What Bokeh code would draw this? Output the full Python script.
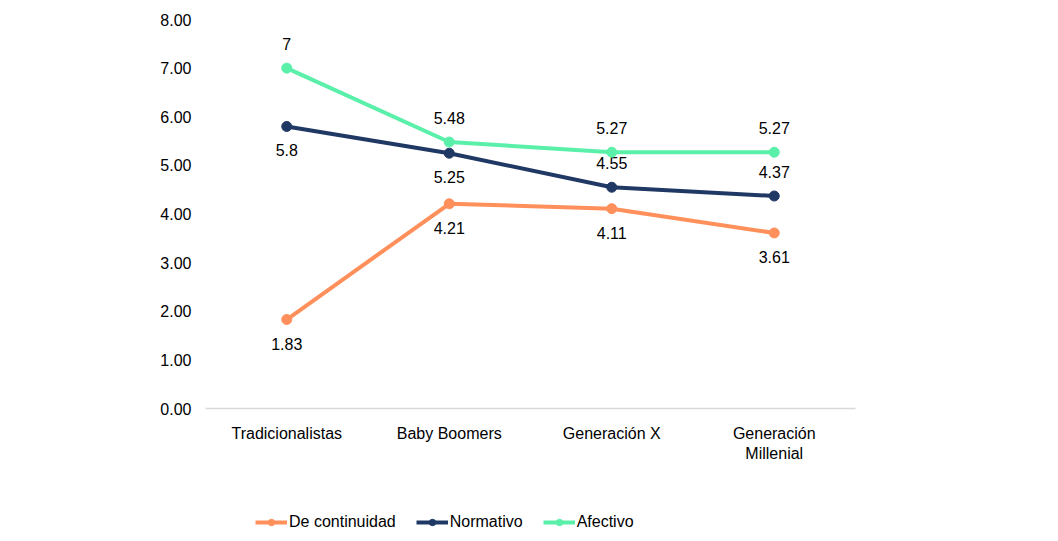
from bokeh.plotting import figure
from bokeh.layouts import column
from bokeh.models import Legend, LegendItem, ColumnDataSource, Range1d, FactorRange, FixedTicker, CustomJSTickFormatter
from bokeh.core.properties import value
from bokeh.embed import file_html
from bokeh.resources import INLINE

categories = ["Tradicionalistas", "Baby Boomers", "Generación X", "Generación\nMillenial"]
continuidad = [1.83, 4.21, 4.11, 3.61]
normativo = [5.8, 5.25, 4.55, 4.37]
afectivo = [7, 5.48, 5.27, 5.27]
cont_labels = ["1.83", "4.21", "4.11", "3.61"]
norm_labels = ["5.8", "5.25", "4.55", "4.37"]
afec_labels = ["7", "5.48", "5.27", "5.27"]
y_ticks = [0, 1, 2, 3, 4, 5, 6, 7, 8]

FONT = "Liberation Sans"
FS = "16px"

p = figure(x_range=FactorRange(*categories, range_padding=0), y_range=Range1d(0, 8),
           width=1050, height=470, frame_width=650, frame_height=389,
           min_border_left=205, min_border_top=19, min_border_right=195,
           output_backend="svg", toolbar_location=None)
p.outline_line_color = None
p.xgrid.grid_line_color = None
p.ygrid.grid_line_color = None

p.yaxis.ticker = FixedTicker(ticks=y_ticks)
p.yaxis.formatter = CustomJSTickFormatter(code="return tick.toFixed(2);")
p.yaxis.axis_line_color = None
p.yaxis.major_tick_line_color = None
p.yaxis.major_tick_out = 0
p.yaxis.minor_tick_line_color = None
p.yaxis.major_label_text_font = FONT
p.yaxis.major_label_text_font_size = FS
p.yaxis.major_label_text_color = "#000000"
p.yaxis.major_label_standoff = 14

p.xaxis.axis_line_color = "#D9D9D9"
p.xaxis.axis_line_width = 1.5
p.xaxis.major_tick_line_color = None
p.xaxis.major_tick_out = 0
p.xaxis.minor_tick_line_color = None
p.xaxis.major_label_text_font = FONT
p.xaxis.major_label_text_font_size = FS
p.xaxis.major_label_text_color = "#000000"
p.xaxis.major_label_standoff = 16

series = [
    ("De continuidad", continuidad, cont_labels, "#FF905C", [24, 24, 24, 24]),
    ("Normativo", normativo, norm_labels, "#1F3864", [24, 24, -24, -24]),
    ("Afectivo", afectivo, afec_labels, "#5BF0AA", [-24, -24, -24, -24]),
]

# legend strip as a second figure (legend drawn inside its frame)
pl = figure(width=1050, height=70, x_range=Range1d(0, 1), y_range=Range1d(0, 1),
            min_border=0, x_axis_type=None, y_axis_type=None,
            output_backend="svg", toolbar_location=None)
pl.outline_line_color = None
pl.xgrid.grid_line_color = None
pl.ygrid.grid_line_color = None

nan = float("nan")
items = []
for name, vals, labs, color, offs in series:
    src = ColumnDataSource(dict(x=categories, y=vals, t=labs, off=offs))
    p.line("x", "y", source=src, line_color=color, line_width=4)
    p.scatter("x", "y", source=src, size=10, fill_color=color, line_color=color)
    p.text("x", "y", text="t", source=src, y_offset="off", text_align="center",
           text_baseline="middle", text_font=value(FONT), text_font_size=FS,
           text_color="#000000")
    dummy = ColumnDataSource(dict(x=[nan], y=[nan]))
    ln = pl.line("x", "y", source=dummy, line_color=color, line_width=4)
    ci = pl.scatter("x", "y", source=dummy, size=10, fill_color=color, line_color=color)
    items.append(LegendItem(label=name, renderers=[ln, ci]))

legend = Legend(items=items, orientation="horizontal", location=(50, 3),
                label_text_font=FONT, label_text_font_size=FS, label_standoff=2,
                label_text_color="#000000",
                glyph_width=32, glyph_height=16, spacing=20, padding=0, margin=0,
                background_fill_alpha=0, border_line_color=None)
pl.add_layout(legend, "center")

layout = column(p, pl, spacing=0)
open("out.html", "w").write(file_html(layout, INLINE))
